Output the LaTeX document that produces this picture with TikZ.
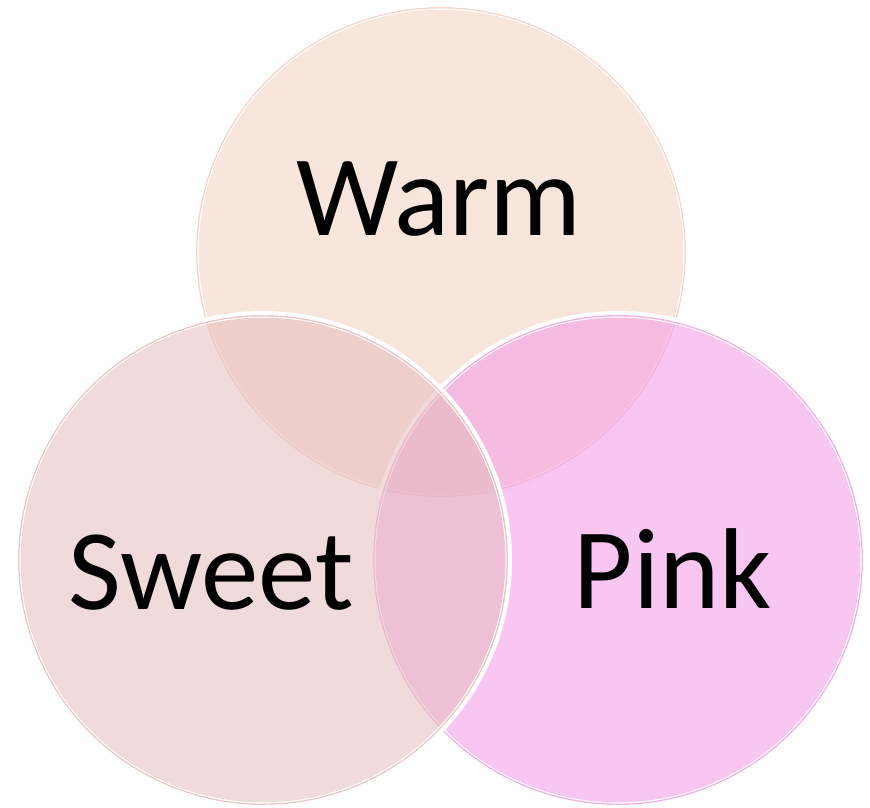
\documentclass[tikz,border=0pt]{standalone}
\usepackage{fontspec}
\setmainfont{Carlito}
\definecolor{warmc}{RGB}{242,210,191}
\definecolor{pinkc}{RGB}{244,151,230}
\definecolor{sweetc}{RGB}{228,188,188}
\definecolor{warml}{RGB}{244,212,198}
\definecolor{pinkl}{RGB}{242,172,230}
\definecolor{sweetl}{RGB}{234,196,196}
\begin{document}
\begin{tikzpicture}[x=1pt,y=-1pt,
  vennfill/.style={fill opacity=0.55},
  innerring/.style={draw=white, line width=1.2pt},
  outerline/.style={line width=1.4pt},
  whiteband/.style={draw=white, line width=4pt},
  lbl/.style={anchor=base, inner sep=0pt, text=black, font=\fontsize{115}{115}\selectfont}]
\useasboundingbox (0,0) rectangle (870,807);
\coordinate (cw) at (441,252);
\coordinate (cs) at (263,560);
\coordinate (cp) at (618,560);
% Warm
\fill[warmc, vennfill] (cw) circle[radius=242.5];
\draw[innerring] (cw) circle[radius=243.1];
\draw[warml, outerline] (cw) circle[radius=244.3];
\draw[whiteband] (cw) circle[radius=247];
% Pink
\fill[pinkc, vennfill] (cp) circle[radius=242.5];
\draw[innerring] (cp) circle[radius=243.1];
\draw[pinkl, outerline] (cp) circle[radius=244.3];
\draw[whiteband] (cp) circle[radius=247];
% Sweet
\fill[sweetc, vennfill] (cs) circle[radius=242.5];
\draw[innerring] (cs) circle[radius=243.1];
\draw[sweetl, outerline] (cs) circle[radius=244.3];
\draw[whiteband] (cs) circle[radius=247];
% labels
\node[lbl] (twarm) at (439,235) {Warm};
\node[lbl] (tsweet) at (211,609) {Sweet};
\node[lbl] (tpink) at (673,608) {Pink};
\end{tikzpicture}
\end{document}
